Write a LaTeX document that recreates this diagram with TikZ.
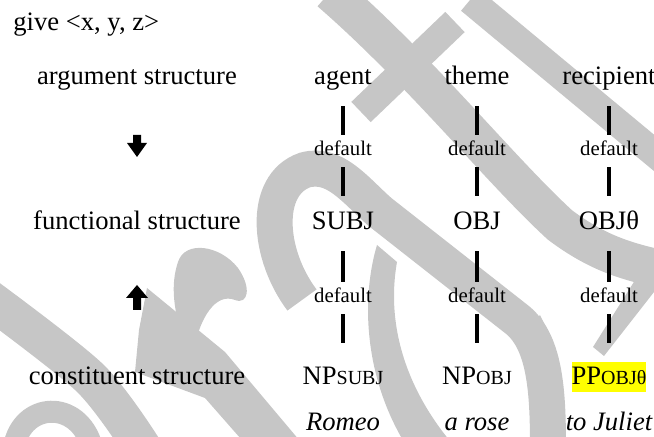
\documentclass[tikz,border=0pt]{standalone}
\usepackage{fontspec}
\setmainfont{Liberation Serif}

\definecolor{wmgray}{RGB}{198,198,198}
\definecolor{hlyellow}{RGB}{255,255,0}
\newcommand{\gf}[1]{{\fontsize{10}{12}\selectfont #1}}
\newcommand{\marked}[1]{{\setlength{\fboxsep}{0pt}\colorbox{hlyellow}{\rule[-3.5pt]{0pt}{15pt}#1}}}

\begin{document}
\begin{tikzpicture}[x=0.5pt, y=-0.5pt,
    lvl/.style={inner sep=0, anchor=base, font=\fontsize{13.3}{16}\selectfont, text height=17pt, text depth=10.5pt},
    cst/.style={lvl, text height=21pt},
    dflt/.style={inner sep=0, anchor=base, font=\fontsize{10.4}{12}\selectfont, text height=10.5pt, text depth=5.5pt},
    word/.style={inner sep=0, anchor=base, font=\fontsize{13.3}{16}\selectfont\itshape},
    bar/.style={line width=1.65pt},
    wm/.style={draw=wmgray, line width=19pt}]
    \useasboundingbox (0,0) rectangle (654,437);
    \clip (0,0) rectangle (654,437);

    % grey strokes in the background
    \draw[wm] (330,-8) .. controls (420,70) and (500,170) .. (560,225) .. controls (600,255) and (630,262) .. (665,270);
    \draw[wm, line width=14pt] (455,22) -- (361,112);
    \draw[wm, line width=14pt] (470,0) -- (665,162);
    \draw[wm] plot[smooth] coordinates {(-12,298) (90,378) (142,447)};
    \draw[wm, line width=11pt] (14,447) .. controls (22,402) and (78,398) .. (92,447);
    \fill[wmgray] (147,288) -- (225,352) -- (305,447) -- (248,447) -- (205,398) -- (135,372) -- (139,330) -- cycle;
    \fill[wmgray] (178,262) .. controls (185,240) and (220,245) .. (238,268) .. controls (252,288) and (248,305) .. (235,300) .. controls (215,292) and (200,320) .. (195,345) -- (180,330) .. controls (172,300) and (172,280) .. (178,262) -- cycle;
    \draw[wm, line width=18pt] (302,300) .. controls (268,255) and (262,185) .. (305,170) .. controls (335,162) and (355,190) .. (380,212) -- (515,318) .. controls (545,340) and (548,390) .. (548,447);
    \fill[wmgray] (528,330) -- (540,315) -- (553,342) -- cycle;
    \fill[wmgray] (377,245) .. controls (362,295) and (362,375) .. (407,447) -- (455,447) .. controls (410,395) and (385,330) .. (397,262) -- cycle;
    \fill[wmgray] (654,250) -- (654,292) -- (604,356) -- (593,347) -- cycle;

    \node[word, font=\fontsize{13.3}{16}\selectfont, anchor=base west] (give) at (13,31) {give <x, y, z>};

    \node[lvl] (argl) at (137,85) {argument structure};
    \node[lvl] (funl) at (137,230) {functional structure};
    \node[lvl] (conl) at (137,385) {constituent structure};

    \coordinate (dn) at (137,146);
    \coordinate (up) at (137,297);
    \fill[shift={(dn)}] (-4,-11) -- (4,-11) -- (4,-3) -- (10,-3) -- (0,11) -- (-10,-3) -- (-4,-3) -- cycle;
    \fill[shift={(up)}] (-4,13) -- (4,13) -- (4,1) -- (11,1) -- (0,-12) -- (-11,1) -- (-4,1) -- cycle;

    \node[lvl] (agent) at (343,85) {agent};
    \node[dflt] (da1) at (343,156) {default};
    \node[lvl] (subj) at (343,230) {SUBJ};
    \node[dflt] (da2) at (343,303) {default};
    \node[cst] (npsubj) at (343,385) {NP\gf{SUBJ}};
    \node[word] (romeo) at (343,431) {Romeo};

    \node[lvl] (theme) at (477,85) {theme};
    \node[dflt] (dt1) at (477,156) {default};
    \node[lvl] (obj) at (477,230) {OBJ};
    \node[dflt] (dt2) at (477,303) {default};
    \node[cst] (npobj) at (477,385) {NP\gf{OBJ}};
    \node[word] (rose) at (477,431) {a rose};

    \node[lvl] (recip) at (609,85) {recipient};
    \node[dflt] (dr1) at (609,156) {default};
    \node[lvl] (objt) at (609,230) {OBJθ};
    \node[dflt] (dr2) at (609,303) {default};
    \node[cst] (ppobj) at (609,385) {\marked{PP\gf{OBJθ}}};
    \node[word] (juliet) at (609,431) {to Juliet};

    \draw[bar] (agent) -- (da1);
    \draw[bar] (da1) -- (subj);
    \draw[bar] (subj) -- (da2);
    \draw[bar] (da2) -- (npsubj);
    \draw[bar] (theme) -- (dt1);
    \draw[bar] (dt1) -- (obj);
    \draw[bar] (obj) -- (dt2);
    \draw[bar] (dt2) -- (npobj);
    \draw[bar] (recip) -- (dr1);
    \draw[bar] (dr1) -- (objt);
    \draw[bar] (objt) -- (dr2);
    \draw[bar] (dr2) -- (ppobj);
\end{tikzpicture}
\end{document}
